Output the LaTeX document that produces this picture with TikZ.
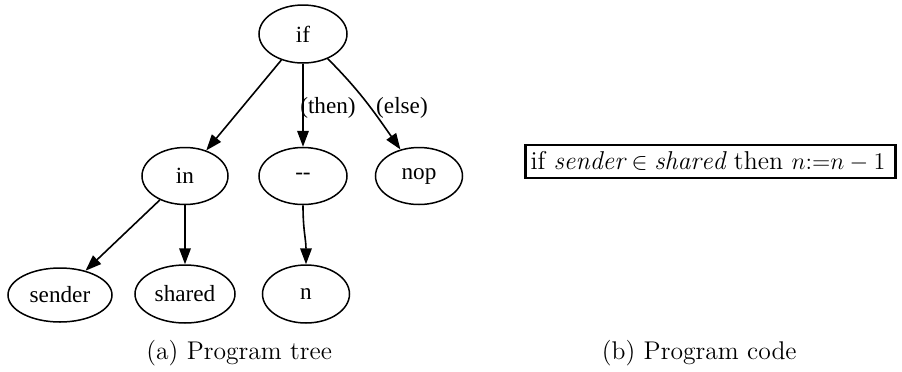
\documentclass[tikz,border=0pt]{standalone}
\usepackage{fontspec}
\newfontfamily\gvfont{Liberation Serif}
\usetikzlibrary{shapes.geometric,arrows.meta}
\begin{document}
\begin{tikzpicture}[x=0.5pt,y=-0.5pt,
  tn/.style={ellipse,draw,line width=0.75pt,inner sep=0pt,font=\gvfont\fontsize{11.6}{13}\selectfont},
  lbl/.style={inner sep=0pt,font=\gvfont\fontsize{11.6}{13}\selectfont},
  arr/.style={draw,line width=0.8pt,-{Triangle[length=8pt,width=5.8pt]}},
  captext/.style={inner sep=0pt,font=\fontsize{12.8}{15}\selectfont}]
\useasboundingbox (0,0) rectangle (902,371);
\node[tn,minimum width=44pt,minimum height=29pt] (if) at (303,34) {if};
\node[tn,minimum width=43pt,minimum height=28.5pt] (in) at (185,176) {in};
\node[tn,minimum width=44pt,minimum height=28.5pt] (dash) at (303,176) {-{}-};
\node[tn,minimum width=43.5pt,minimum height=28.5pt] (nop) at (419,176) {nop};
\node[tn,minimum width=52pt,minimum height=27pt] (sender) at (60,295) {sender};
\node[tn,minimum width=50pt,minimum height=29pt] (shared) at (185,294) {shared};
\node[tn,minimum width=43.5pt,minimum height=29pt] (n) at (306,294) {n};
\node[lbl] (then) at (328,108) {(then)};
\node[lbl] (else) at (402,108) {(else)};
\draw[arr] (if) -- (in);
\draw[arr] (if) -- (dash);
\draw[arr] (if) to[out=-45,in=125] (nop);
\draw[arr] (in) -- (sender);
\draw[arr] (in) -- (shared);
\draw[arr] (dash.south) .. controls +(0,25) and +(0,-25) .. (n.north);
\node[draw,line width=1.4pt,minimum width=185pt,minimum height=16.5pt,inner sep=0pt] (code) at (710.5,161.5) {};
\node[inner sep=0pt,font=\fontsize{12.9}{15}\selectfont] (codetext) at (708,161.5) {if $\mathit{sender}\in\mathit{shared}$ then $n{:=}n-1$};
\node[captext,anchor=base west] (capa) at (146,359) {(a) Program tree};
\node[captext,anchor=base east] (capb) at (797,359) {(b) Program code};
\end{tikzpicture}
\end{document}
